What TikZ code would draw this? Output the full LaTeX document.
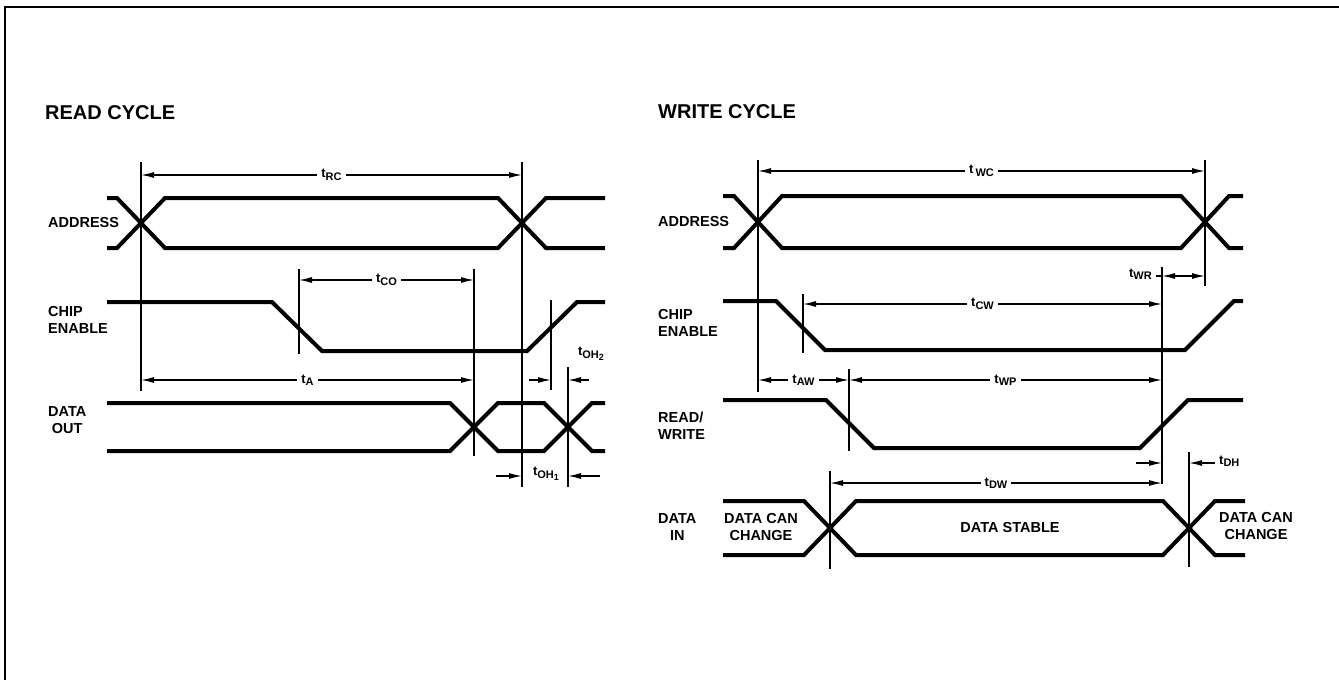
\documentclass[tikz,border=0pt]{standalone}
\usepackage{fontspec}
\setmainfont{Liberation Sans}
\usepackage{tikz}
\usetikzlibrary{arrows.meta}
\tikzset{>={Latex[length=13pt,width=6pt]}}
\newcommand{\tsub}[1]{t\raisebox{-0.35ex}{\fontsize{11}{12}\selectfont #1}}

\begin{document}
\begin{tikzpicture}[x=1pt, y=-1pt, font=\bfseries\fontsize{14.5}{17}\selectfont]

  \tikzset{sig/.style={line width=4pt},
           guide/.style={line width=1.3pt},
           dim/.style={line width=1.3pt},
           tlbl/.style={fill=white, inner xsep=4pt, inner ysep=1pt,
                        font=\bfseries\fontsize{13}{14}\selectfont},
           sname/.style={inner sep=0pt, align=left, anchor=west},
           title/.style={inner sep=0pt, anchor=west,
                         font=\bfseries\fontsize{20}{22}\selectfont}}

  \useasboundingbox (0,0) rectangle (1339,680);
  \draw[line width=2pt] (5,680) -- (5,7) -- (1339,7);

  \node[title] (rtitle) at (45,113) {READ CYCLE};
  \node[title] (wtitle) at (658,112) {WRITE CYCLE};

  % signal names
  \node[sname] (raddr) at (48,223) {ADDRESS};
  \node[sname] (rce)   at (48,320) {CHIP\\ENABLE};
  \node[sname, align=center] (rdout) at (48,420) {DATA\\OUT};
  \node[sname] (waddr) at (658,222) {ADDRESS};
  \node[sname] (wce)   at (658,323) {CHIP\\ENABLE};
  \node[sname] (wrw)   at (658,426) {READ/\\WRITE};
  \node[sname, align=center] (wdin) at (658,527) {DATA\\IN};

  % read cycle waveforms
  \draw[sig] (107,198) -- (117,198) -- (165,248) -- (498,248) -- (546,198) -- (605,198);
  \draw[sig] (107,248) -- (117,248) -- (165,198) -- (498,198) -- (546,248) -- (605,248);
  \draw[sig] (107,302) -- (272,302) -- (322,351) -- (527,351) -- (577,302) -- (605,302);
  \draw[sig] (107,403) -- (450,403) -- (498,451) -- (544,451) -- (592,403) -- (605,403);
  \draw[sig] (107,451) -- (450,451) -- (498,403) -- (544,403) -- (592,451) -- (605,451);

  % write cycle waveforms
  \draw[sig] (723,196) -- (734,196) -- (782,248) -- (1181,248) -- (1229,196) -- (1243,196);
  \draw[sig] (723,248) -- (734,248) -- (782,196) -- (1181,196) -- (1229,248) -- (1243,248);
  \draw[sig] (723,301) -- (776,301) -- (825,350) -- (1185,350) -- (1234,301) -- (1243,301);
  \draw[sig] (723,400) -- (826,400) -- (874,448) -- (1140,448) -- (1188,400) -- (1243,400);
  \draw[sig] (723,501) -- (804,501) -- (856,555) -- (1163,555) -- (1215,501) -- (1245,501);
  \draw[sig] (723,555) -- (804,555) -- (856,501) -- (1163,501) -- (1215,555) -- (1245,555);

  % timing edges
  \foreach \n/\x/\ya/\yb in {ra/141/162/391, rb/522/162/487, rc/299/269/354,
                             rd/474/269/456, re/551/300/390, rf/568/367/487,
                             wa/758/160/392, wb/1205/160/286, wc/1162/267/484,
                             wd/803/294/353, we/849/369/451, wf/830/471/569,
                             wg/1189/452/567} {
    \coordinate (\n) at (\x,\ya);
    \draw[guide] (\n) -- (\x,\yb);
  }

  % levels of the dimension lines
  \foreach \n/\y in {yRC/175, yCO/280, yA/380, yOH1/476,
                     yWC/171, yWR/276, yCW/304, yAW/380, yDH/463, yDW/483} {
    \coordinate (\n) at (0,\y);
  }

  % read cycle times
  \draw[dim, <->] (ra |- yRC) -- (rb |- yRC) node[tlbl, midway] (lRC) {\tsub{RC}};
  \draw[dim, <->] (rc |- yCO) -- (rd |- yCO) node[tlbl, midway] (lCO) {\tsub{CO}};
  \draw[dim, <->] (ra |- yA) -- (rd |- yA) node[tlbl, midway] (lA) {\tsub{A}};

  \coordinate (oh2l) at (529,380);
  \coordinate (oh2r) at (589,380);
  \draw[dim, ->] (oh2l) -- (re |- oh2l);
  \draw[dim, ->] (oh2r) -- (rf |- oh2r);
  \node[tlbl, fill=none] (lOH2) at (591,354) {t\raisebox{-0.35ex}{\fontsize{11}{12}\selectfont OH\raisebox{-0.4ex}{\fontsize{9}{10}\selectfont 2}}};

  \coordinate (oh1l) at (496,476);
  \coordinate (oh1r) at (600,476);
  \draw[dim, ->] (oh1l) -- (rb |- oh1l);
  \draw[dim, ->] (oh1r) -- (rf |- oh1r);
  \node[tlbl, fill=none] (lOH1) at (546,474) {t\raisebox{-0.35ex}{\fontsize{11}{12}\selectfont OH\raisebox{-0.4ex}{\fontsize{9}{10}\selectfont 1}}};

  % write cycle times
  \draw[dim, <->] (wa |- yWC) -- (wb |- yWC) node[tlbl, midway] (lWC) {t\,\raisebox{-0.35ex}{\fontsize{11}{12}\selectfont WC}};
  \draw[dim] (1156,276) -- (wc |- yWR);
  \draw[dim, <->] (wc |- yWR) -- (wb |- yWR);
  \node[tlbl, fill=none, anchor=east] (lWR) at (1156,274) {\tsub{WR}};
  \draw[dim, <->] (wd |- yCW) -- (wc |- yCW) node[tlbl, midway] (lCW) {\tsub{CW}};
  \draw[dim, <->] (wa |- yAW) -- (we |- yAW) node[tlbl, midway] (lAW) {\tsub{AW}};
  \draw[dim, <->] (we |- yAW) -- (wc |- yAW) node[tlbl, midway] (lWP) {\tsub{WP}};
  \draw[dim, <->] (wf |- yDW) -- (wc |- yDW) node[tlbl, midway] (lDW) {\tsub{DW}};

  \coordinate (dhl) at (1136,463);
  \coordinate (dhr) at (1215,463);
  \draw[dim, ->] (dhl) -- (wc |- dhl);
  \draw[dim, ->] (dhr) -- (wg |- dhr);
  \node[tlbl, fill=none, anchor=west] (lDH) at (1215,461) {\tsub{DH}};

  % data in states
  \node[align=center, inner sep=0pt] (chg1) at (761,527) {DATA CAN\\CHANGE};
  \node[inner sep=0pt] (stable) at (1010,528) {DATA STABLE};
  \node[align=center, inner sep=0pt] (chg2) at (1256,526) {DATA CAN\\CHANGE};

\end{tikzpicture}
\end{document}
